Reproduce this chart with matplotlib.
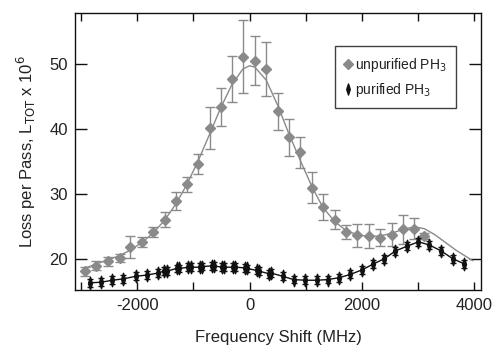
import matplotlib
matplotlib.use("Agg")
import matplotlib.pyplot as plt
import numpy as np
from matplotlib.path import Path
from matplotlib.lines import Line2D

plt.rcParams['font.family'] = ['Liberation Sans', 'DejaVu Sans']

# unpurified PH3 (gray diamonds with error bars)
unp_x = [-2938, -2730, -2524, -2315, -2125, -1918, -1722, -1514, -1305, -1117,
         -921, -712, -516, -315, -119, 94, 297, 504, 695, 903,
         1110, 1305, 1519, 1722, 1918, 2125, 2328, 2534, 2730, 2939, 3117]
unp_y = [18.2, 19.0, 19.7, 20.2, 21.9, 22.7, 24.2, 26.1, 29.0, 31.5,
         34.6, 40.1, 43.4, 47.7, 51.1, 50.5, 49.2, 42.7, 38.7, 36.4,
         31.0, 28.0, 26.1, 24.2, 23.7, 23.6, 23.3, 23.8, 24.6, 24.7, 23.6]
unp_err = [0.7, 0.7, 0.65, 0.6, 1.7, 0.8, 0.7, 1.15, 1.4, 1.15,
           1.5, 3.2, 2.95, 3.5, 5.6, 3.8, 4.2, 2.8, 2.8, 2.4,
           2.4, 2.0, 1.4, 1.15, 1.8, 1.8, 1.3, 1.8, 2.2, 1.6, 0.4]

# fit curve for unpurified PH3 (gray line)
fit_x = [-2950, -2730, -2524, -2315, -2125, -1918, -1722, -1514, -1305, -1117,
         -921, -712, -516, -315, -119, 0, 94, 297, 504, 695,
         903, 1110, 1305, 1519, 1722, 1918, 2125, 2328, 2534, 2730,
         2939, 3117, 3300, 3443, 3680, 3977]
fit_y = [18.6, 19.3, 19.9, 20.6, 21.4, 22.6, 24.0, 26.0, 28.6, 31.5,
         35.0, 39.2, 43.2, 46.8, 49.2, 49.7, 49.5, 47.5, 43.6, 39.4,
         35.2, 31.2, 28.0, 25.8, 24.4, 23.8, 23.5, 23.6, 24.0, 24.6,
         25.0, 24.7, 23.8, 22.9, 21.4, 19.8]

# purified PH3 (black)
pur_x = [-2850, -2641, -2445, -2256, -2030, -1829, -1633, -1520, -1470, -1300, -1250,
         -1090, -1050, -880, -840, -670, -630, -490, -450, -290, -250,
         -80, -40, 130, 170, 344, 386, 593, 784, 997, 1199, 1395, 1603,
         1799, 2007, 2208, 2404, 2600, 2801, 3010, 3206, 3414, 3621, 3829]
pur_y = [16.4, 16.5, 16.8, 17.0, 17.4, 17.6, 17.9, 18.2, 18.2, 18.6, 18.6,
         18.8, 18.8, 18.8, 18.9, 19.0, 19.0, 18.8, 18.8, 18.8, 18.8,
         18.7, 18.6, 18.3, 18.2, 17.8, 17.9, 17.4, 16.9, 16.8, 16.8, 16.9, 17.2,
         17.7, 18.4, 19.3, 20.1, 21.3, 22.0, 22.7, 22.2, 21.3, 20.1, 19.3]
pur_err = [0.6] * len(pur_x)

x_ticks = [-3000, -2000, -1000, 0, 1000, 2000, 3000, 4000]
x_labels = ['', '-2000', '', '0', '', '2000', '', '4000']
y_ticks = [20, 30, 40, 50]

fig = plt.figure(figsize=(4.98, 3.5), dpi=100)
ax = fig.add_axes([0.1506, 0.1714, 0.8153, 0.7915])

gray = '#8a8a8a'
black = '#111111'
txt = '#222222'

thin = Path([(0, 1), (0.32, 0), (0, -1), (-0.32, 0), (0, 1)],
            [Path.MOVETO, Path.LINETO, Path.LINETO, Path.LINETO, Path.CLOSEPOLY])

ax.plot(fit_x, fit_y, color=gray, lw=1.0, zorder=2)
ax.errorbar(unp_x, unp_y, yerr=unp_err, fmt='D', color=gray, ms=5.5,
            ecolor=gray, elinewidth=1.0, capsize=3.5, capthick=1.0, zorder=3)
ax.plot(pur_x, pur_y, color=black, lw=1.0, zorder=4)
ax.errorbar(pur_x, pur_y, yerr=pur_err, fmt='none', ecolor=black,
            elinewidth=1.0, capsize=2.2, zorder=4)
ax.plot(pur_x, pur_y, linestyle='none', marker=thin, ms=9, color=black,
        zorder=5)

ax.set_xlim(-3110, 4125)
ax.set_ylim(15.3, 57.8)
ax.set_xticks(x_ticks)
ax.set_xticklabels(x_labels)
ax.set_yticks(y_ticks)
ax.tick_params(axis='both', direction='in', top=True, right=True,
               labelsize=12, colors=black, labelcolor=txt, width=1.0)
ax.tick_params(axis='x', length=6, pad=6)
ax.tick_params(axis='y', length=8.5, pad=5)
for s in ax.spines.values():
    s.set_linewidth(1.0)
    s.set_color(black)

ax.set_xlabel('Frequency Shift (MHz)', fontsize=12, color=txt, labelpad=12)
ax.set_ylabel('Loss per Pass, L$_{\\mathrm{TOT}}$ x 10$^6$', fontsize=12, color=txt, labelpad=8)

handles = [
    Line2D([], [], linestyle='none', marker='D', ms=5, color=gray),
    Line2D([], [], linestyle='none', marker=thin, ms=8, color=black),
]
labels = ['unpurified PH$_3$', 'purified PH$_3$']
leg = ax.legend(handles, labels, loc='upper left', bbox_to_anchor=(0.64, 0.881),
                fontsize=10, frameon=True, fancybox=False, handlelength=0.5,
                handletextpad=0.25, borderpad=0.7, labelspacing=0.5,
                borderaxespad=0)
leg.get_frame().set_edgecolor(black)
leg.get_frame().set_linewidth(1.0)
for t in leg.get_texts():
    t.set_color(txt)

fig.savefig('out.png', dpi=100)
